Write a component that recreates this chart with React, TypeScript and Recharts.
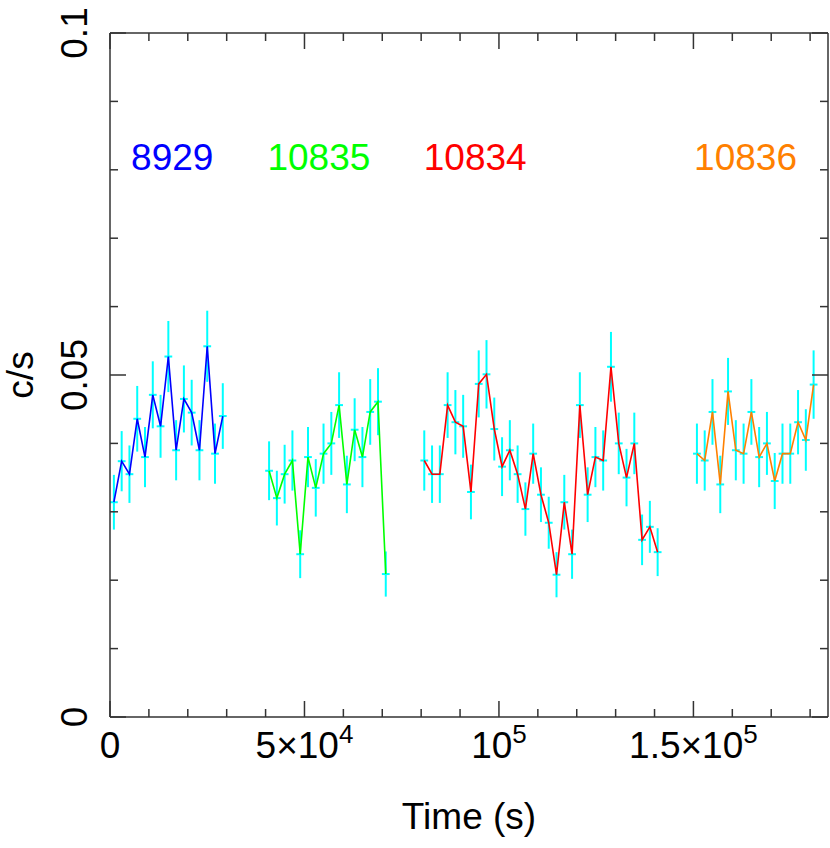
import React from 'react';
import { ComposedChart, Line, Scatter, ErrorBar, XAxis, YAxis, ReferenceDot } from 'recharts';

const FONT = '"Liberation Sans", Arial, Helvetica, sans-serif';
const AXIS = '#333';
const CYAN = '#00ffff';

// half width of a 2 ks time bin
const BIN_HALF = 1000;

const X_MAX = 184600;
const X_TICKS = [0, 10000, 20000, 30000, 40000, 50000, 60000, 70000, 80000, 90000, 100000,
  110000, 120000, 130000, 140000, 150000, 160000, 170000, 180000];
const Y_TICKS = [0, 0.01, 0.02, 0.03, 0.04, 0.05, 0.06, 0.07, 0.08, 0.09, 0.1];

// obsid 8929
const blueX = [1000, 3000, 5000, 7000, 9000, 11000, 13000, 15000, 17000, 19000, 21000, 23000, 25000, 27000, 29000];
const blueY = [0.0314, 0.0374, 0.0355, 0.0436, 0.038, 0.0471, 0.0425, 0.0527, 0.039, 0.0465, 0.0445, 0.039, 0.0542, 0.0385, 0.044];
const blueErr = [0.004, 0.0044, 0.0042, 0.0048, 0.0044, 0.0049, 0.0046, 0.0052, 0.0044, 0.0049, 0.0048, 0.0044, 0.0052, 0.0044, 0.0048];

// obsid 10835
const greenX = [40900, 42900, 44900, 46900, 48900, 50900, 52900, 54900, 56900, 58900, 60900, 62900, 64900, 66900, 68900, 70900];
const greenY = [0.036, 0.032, 0.0355, 0.0375, 0.0238, 0.038, 0.0335, 0.0385, 0.04, 0.0456, 0.034, 0.042, 0.038, 0.0446, 0.0461, 0.0209];
const greenErr = [0.0043, 0.004, 0.0043, 0.0044, 0.0035, 0.0044, 0.0042, 0.0044, 0.0046, 0.0048, 0.0042, 0.0046, 0.0044, 0.0048, 0.0049, 0.0033];

// obsid 10834
const redX = [80800, 82800, 84800, 86800, 88800, 90800, 92800, 94800, 96800, 98800, 100800, 102800, 104800, 106800,
  108800, 110800, 112800, 114800, 116800, 118800, 120800, 122800, 124800, 126800, 128800, 130800, 132800, 134800,
  136800, 138800, 140800];
const redY = [0.0375, 0.0355, 0.0355, 0.0456, 0.0431, 0.0425, 0.0329, 0.0487, 0.0501, 0.0421, 0.0366, 0.039, 0.0355,
  0.0304, 0.0385, 0.0325, 0.0284, 0.0208, 0.0314, 0.0238, 0.0456, 0.0325, 0.038, 0.0375, 0.0512, 0.04, 0.035, 0.04,
  0.0259, 0.0278, 0.0241];
const redErr = [0.0044, 0.0042, 0.0042, 0.0048, 0.0047, 0.0046, 0.004, 0.0049, 0.005, 0.0046, 0.0043, 0.0044, 0.0042,
  0.0039, 0.0044, 0.004, 0.0038, 0.0033, 0.004, 0.0036, 0.0048, 0.004, 0.0044, 0.0044, 0.0051, 0.0045, 0.0042, 0.0045,
  0.0037, 0.0038, 0.0035];

// obsid 10836
const orangeX = [150900, 152900, 154900, 156900, 158900, 160900, 162900, 164900, 166900, 168900, 170900, 172900, 174900, 176900, 178900, 180900];
const orangeY = [0.0385, 0.0375, 0.0446, 0.034, 0.0476, 0.039, 0.0385, 0.0446, 0.038, 0.04, 0.0345, 0.0385, 0.0385, 0.0431, 0.0405, 0.0486];
const orangeErr = [0.0044, 0.0044, 0.0048, 0.0042, 0.0049, 0.0044, 0.0044, 0.0048, 0.0044, 0.0046, 0.0041, 0.0044, 0.0044, 0.0047, 0.0045, 0.005];

const OBS_IDS = ['8929', '10835', '10834', '10836'];
const OBS_COLORS = ['#0000ff', '#00ff00', '#ff0000', '#ff8000'];
const OBS_LABEL_X = [16000, 53700, 93900, 163400];
const OBS_LABEL_Y = 0.08;

const toPoints = (xs: number[], ys: number[], es: number[]) =>
  xs.map((x, i) => ({ x, y: ys[i], ey: es[i], ex: BIN_HALF }));

const SERIES = [
  toPoints(blueX, blueY, blueErr),
  toPoints(greenX, greenY, greenErr),
  toPoints(redX, redY, redErr),
  toPoints(orangeX, orangeY, orangeErr),
];

const isMajorX = (v: number) => v % 50000 === 0;
const isMajorY = (v: number) => Math.abs(v * 20 - Math.round(v * 20)) < 1e-9;

function xLabel(v: number) {
  if (v === 0) return <tspan>0</tspan>;
  const exp = Math.floor(Math.log10(v));
  const mant = v / Math.pow(10, exp);
  return (
    <>
      <tspan>{mant === 1 ? '10' : `${mant}\u00d710`}</tspan>
      <tspan dy={-15} fontSize={26}>{exp}</tspan>
    </>
  );
}

const BottomTick = (props: any) => {
  const { x, y, payload } = props;
  const major = isMajorX(payload.value);
  return (
    <g>
      <line x1={x} y1={y} x2={x} y2={y - (major ? 16 : 8)} stroke={AXIS} strokeWidth={1.5} />
      {major && (
        <text x={x} y={y + 41} textAnchor="middle" fontSize={37} fontFamily={FONT} fill="#000">
          {xLabel(payload.value)}
        </text>
      )}
    </g>
  );
};

const TopTick = (props: any) => {
  const { x, y, payload } = props;
  const major = isMajorX(payload.value);
  return <line x1={x} y1={y} x2={x} y2={y + (major ? 16 : 8)} stroke={AXIS} strokeWidth={1.5} />;
};

const LeftTick = (props: any) => {
  const { x, y, payload } = props;
  const major = isMajorY(payload.value);
  const lx = x - 23;
  return (
    <g>
      <line x1={x} y1={y} x2={x + (major ? 16 : 8)} y2={y} stroke={AXIS} strokeWidth={1.5} />
      {major && (
        <text x={lx} y={y} transform={`rotate(-90 ${lx} ${y})`} textAnchor="middle"
          fontSize={37} fontFamily={FONT} fill="#000">
          {String(payload.value)}
        </text>
      )}
    </g>
  );
};

const RightTick = (props: any) => {
  const { x, y, payload } = props;
  const major = isMajorY(payload.value);
  return <line x1={x} y1={y} x2={x - (major ? 16 : 8)} y2={y} stroke={AXIS} strokeWidth={1.5} />;
};

export default function App() {
  return (
    <div style={{ position: 'absolute', left: 0, top: 0, background: '#fff' }}>
      <ComposedChart width={830} height={848} margin={{ top: 0, right: 0, bottom: 0, left: 0 }}>
        <XAxis xAxisId={0} type="number" dataKey="x" domain={[0, X_MAX]} ticks={X_TICKS} interval={0}
          height={131} tickSize={0} tickMargin={0} tickLine={false} tick={<BottomTick />}
          axisLine={{ stroke: AXIS, strokeWidth: 1.5 }} allowDataOverflow
          label={{ value: 'Time (s)', position: 'insideBottom', offset: 19, fontSize: 37, fontFamily: FONT, fill: '#000' }} />
        <XAxis xAxisId="top" orientation="top" type="number" dataKey="x" domain={[0, X_MAX]} ticks={X_TICKS}
          interval={0} height={33} tickSize={0} tickMargin={0} tickLine={false} tick={<TopTick />}
          axisLine={{ stroke: AXIS, strokeWidth: 1.5 }} allowDataOverflow />
        <YAxis yAxisId={0} type="number" domain={[0, 0.1]} ticks={Y_TICKS} interval={0} width={110}
          tickSize={0} tickMargin={0} tickLine={false} tick={<LeftTick />}
          axisLine={{ stroke: AXIS, strokeWidth: 1.5 }} allowDataOverflow
          label={({ viewBox }: any) => {
            const cx = 33;
            const cy = viewBox.y + viewBox.height / 2;
            return (
              <text x={cx} y={cy} transform={`rotate(-90 ${cx} ${cy})`} textAnchor="middle"
                fontSize={37} fontFamily={FONT} fill="#000">c/s</text>
            );
          }} />
        <YAxis yAxisId="right" orientation="right" type="number" domain={[0, 0.1]} ticks={Y_TICKS} interval={0}
          width={2} tickSize={0} tickMargin={0} tickLine={false} tick={<RightTick />}
          axisLine={{ stroke: AXIS, strokeWidth: 1.5 }} allowDataOverflow />

        {SERIES.map((pts, i) => (
          <Scatter key={`err-${i}`} data={pts} dataKey="y" isAnimationActive={false} shape={() => <g />}>
            <ErrorBar dataKey="ey" direction="y" width={0} stroke={CYAN} strokeWidth={2} isAnimationActive={false} />
            <ErrorBar dataKey="ex" direction="x" width={0} stroke={CYAN} strokeWidth={2} isAnimationActive={false} />
          </Scatter>
        ))}
        {SERIES.map((pts, i) => (
          <Line key={`line-${i}`} data={pts} dataKey="y" type="linear" stroke={OBS_COLORS[i]} strokeWidth={1.6}
            dot={false} activeDot={false} isAnimationActive={false} />
        ))}

        {OBS_IDS.map((id, i) => (
          <ReferenceDot key={id} x={OBS_LABEL_X[i]} y={OBS_LABEL_Y} r={0} fill="none" stroke="none"
            label={({ viewBox }: any) => (
              <text x={viewBox.x + viewBox.width / 2} y={viewBox.y + viewBox.height / 2} textAnchor="middle"
                fontSize={37} fontFamily={FONT} fill={OBS_COLORS[i]}>{id}</text>
            )} />
        ))}
      </ComposedChart>
    </div>
  );
}
